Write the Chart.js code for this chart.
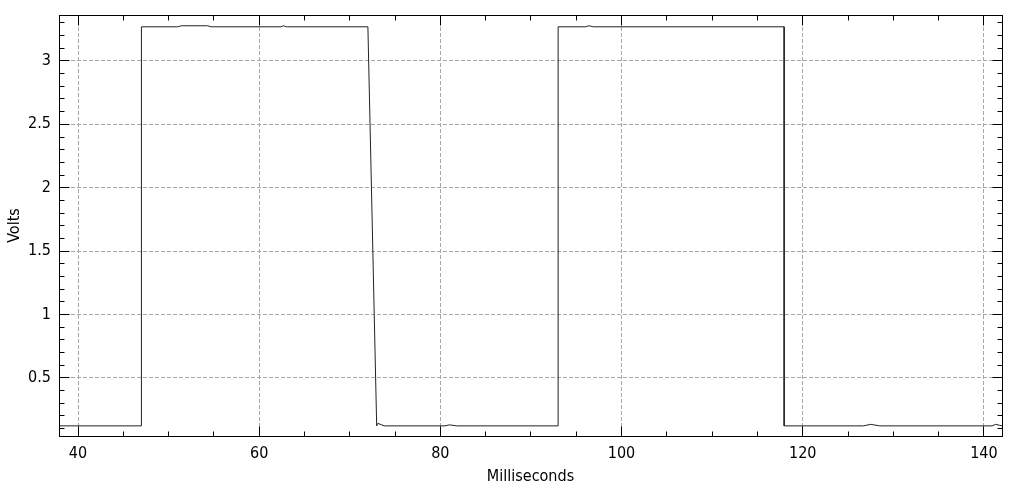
<!DOCTYPE html>
<html>
<head>
<meta charset="utf-8">
<script src="https://cdn.jsdelivr.net/npm/chart.js@4/dist/chart.umd.min.js"></script>
<style>
  html, body { margin: 0; padding: 0; background: #fff; }
  canvas { display: block; }
</style>
</head>
<body>
<canvas id="c" width="1024" height="493"></canvas>
<script>
// ---- data ----
const timeMs = [37.9, 47.0, 47.0, 51.0, 51.4, 54.3, 54.7, 62.4, 62.7, 63.0, 72.0, 72.97, 73.1, 73.8, 80.5, 81.0, 81.8, 93.0, 93.0, 96.0, 96.4, 96.9, 117.95, 117.95, 126.7, 127.5, 128.5, 140.9, 141.3, 141.7, 142.0];
const volts  = [0.12, 0.12, 3.27, 3.27, 3.278, 3.278, 3.27, 3.27, 3.278, 3.27, 3.27, 0.12, 0.14, 0.12, 0.12, 0.128, 0.12, 0.12, 3.27, 3.27, 3.278, 3.27, 3.27, 0.12, 0.12, 0.132, 0.12, 0.12, 0.132, 0.125, 0.12];

const xTicks = [40, 60, 80, 100, 120, 140];
const xTickLabels = ['40', '60', '80', '100', '120', '140'];
const yTicks = [0.5, 1, 1.5, 2, 2.5, 3];
const yTickLabels = ['0.5', '1', '1.5', '2', '2.5', '3'];
const xMinorStep = 5;
const yMinorStep = 0.1;
const xRange = [37.9, 142.0];
const yRange = [0.04, 3.363];

const FONT = '"DejaVu Sans Condensed", "DejaVu Sans", sans-serif';

function align(p) { return Math.round(p - 0.5) + 0.5; }

const frameTicks = {
  id: 'frameTicks',
  afterDatasetsDraw(chart) {
    const { ctx, chartArea: a, scales: { x, y } } = chart;
    const L = align(a.left), R = align(a.right), T = align(a.top), B = align(a.bottom);
    ctx.save();
    ctx.strokeStyle = '#000';
    ctx.lineWidth = 1;
    ctx.setLineDash([]);
    ctx.beginPath();
    const nx0 = Math.ceil(x.min / xMinorStep), nx1 = Math.floor(x.max / xMinorStep);
    for (let i = nx0; i <= nx1; i++) {
      const v = i * xMinorStep;
      const px = align(x.getPixelForValue(v));
      const len = xTicks.includes(v) ? 10 : 5;
      ctx.moveTo(px, B); ctx.lineTo(px, B - len);
      ctx.moveTo(px, T); ctx.lineTo(px, T + len);
    }
    const ny0 = Math.ceil(y.min / yMinorStep - 1e-9), ny1 = Math.floor(y.max / yMinorStep + 1e-9);
    for (let i = ny0; i <= ny1; i++) {
      const v = Math.round(i * yMinorStep * 10) / 10;
      const py = align(y.getPixelForValue(v));
      const len = (i % 5 === 0) ? 10 : 5;
      ctx.moveTo(L, py); ctx.lineTo(L + len, py);
      ctx.moveTo(R, py); ctx.lineTo(R - len, py);
    }
    ctx.stroke();
    ctx.strokeRect(L, T, R - L, B - T);
    ctx.restore();
  }
};

new Chart(document.getElementById('c'), {
  type: 'line',
  data: {
    datasets: [{
      data: timeMs.map((t, i) => ({ x: t, y: volts[i] })),
      borderColor: '#222',
      borderWidth: 1,
      pointRadius: 0,
      tension: 0,
      fill: false
    }]
  },
  options: {
    responsive: false,
    animation: false,
    devicePixelRatio: 1,
    layout: { padding: { top: 15, right: 22, left: 0, bottom: 0 } },
    plugins: { legend: { display: false }, tooltip: { enabled: false } },
    scales: {
      x: {
        type: 'linear',
        min: xRange[0],
        max: xRange[1],
        afterBuildTicks: (s) => { s.ticks = xTicks.map(v => ({ value: v })); },
        afterFit: (s) => { s.height = 57; s.paddingLeft = 0; s.paddingRight = 0; },
        ticks: {
          color: '#000',
          font: { family: FONT, size: 16 },
          padding: 8,
          maxRotation: 0,
          autoSkip: false,
          callback: (v) => xTickLabels[xTicks.indexOf(v)]
        },
        grid: { color: '#a8a8a8', lineWidth: 1, drawTicks: false },
        border: { display: false, dash: [4, 2] },
        title: {
          display: true,
          text: 'Milliseconds',
          color: '#000',
          font: { family: FONT, size: 16 },
          padding: { top: 0, bottom: 7 }
        }
      },
      y: {
        type: 'linear',
        min: yRange[0],
        max: yRange[1],
        afterBuildTicks: (s) => { s.ticks = yTicks.map(v => ({ value: v })); },
        afterFit: (s) => { s.width = 59; s.paddingTop = 0; s.paddingBottom = 0; },
        ticks: {
          color: '#000',
          font: { family: FONT, size: 16 },
          padding: 8,
          autoSkip: false,
          callback: (v) => yTickLabels[yTicks.indexOf(v)]
        },
        grid: { color: '#a8a8a8', lineWidth: 1, drawTicks: false },
        border: { display: false, dash: [4, 2] },
        title: {
          display: true,
          text: 'Volts',
          color: '#000',
          font: { family: FONT, size: 16 },
          padding: { top: 5, bottom: 0 }
        }
      }
    }
  },
  plugins: [frameTicks]
});
</script>
</body>
</html>
